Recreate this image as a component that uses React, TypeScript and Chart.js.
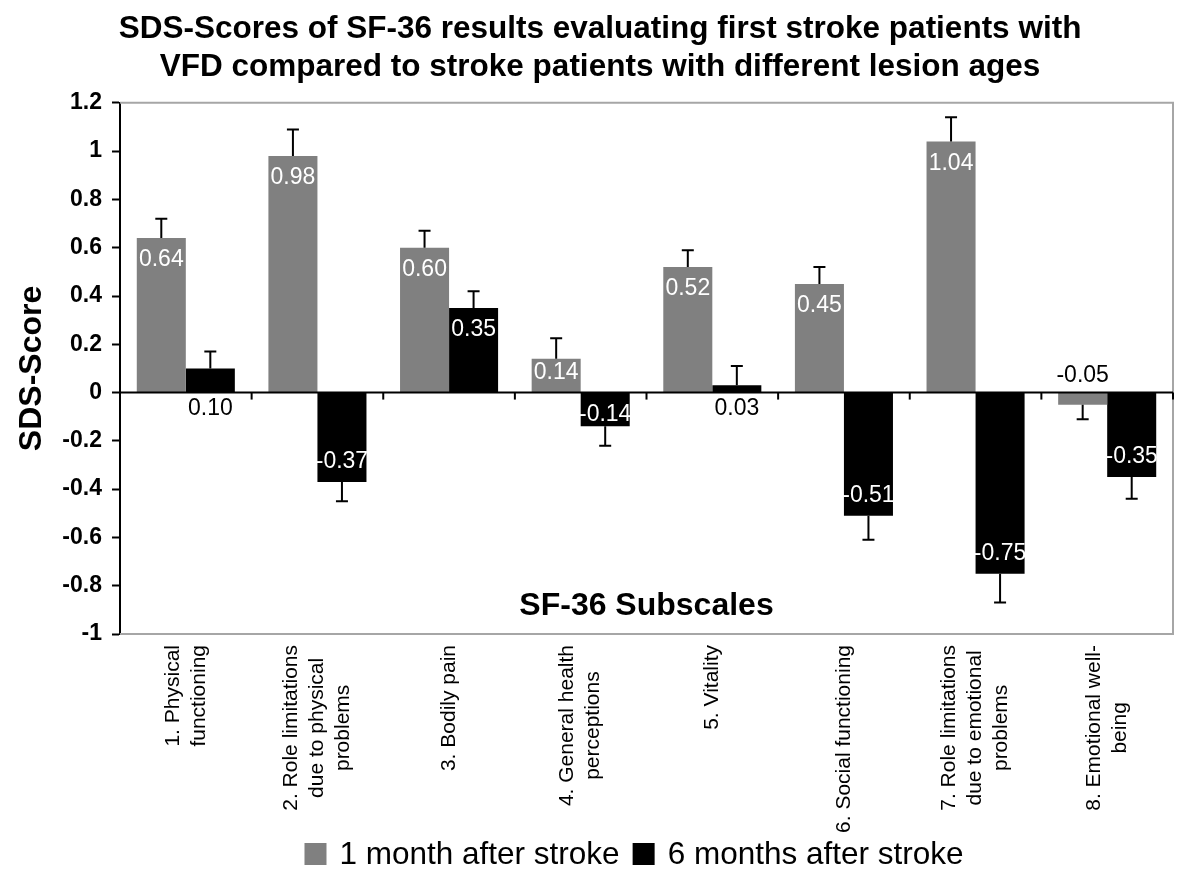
import React, { useEffect, useRef } from "react";
import { Chart, registerables } from "chart.js";
Chart.register(...registerables);

const FONT = "'Liberation Sans', Arial, Helvetica, sans-serif";

const titleLines = [
  "SDS-Scores of SF-36 results evaluating first stroke patients with",
  "VFD compared to stroke patients with different lesion ages",
];
const yAxisTitle = "SDS-Score";
const xAxisTitle = "SF-36 Subscales";

const categories: string[][] = [
  ["1. Physical", "functioning"],
  ["2. Role limitations", "due to physical", "problems"],
  ["3. Bodily pain"],
  ["4. General health", "perceptions"],
  ["5. Vitality"],
  ["6. Social functioning"],
  ["7. Role limitations", "due to emotional", "problems"],
  ["8. Emotional well-", "being"],
];

const seriesNames = ["1 month after stroke", "6 months after stroke"];
const seriesColors = ["#808080", "#000000"];

const oneMonth = [0.64, 0.98, 0.6, 0.14, 0.52, 0.45, 1.04, -0.05];
const sixMonths = [0.1, -0.37, 0.35, -0.14, 0.03, -0.51, -0.75, -0.35];
const oneMonthErr = [0.08, 0.11, 0.07, 0.085, 0.07, 0.07, 0.1, 0.06];
const sixMonthsErr = [0.07, 0.08, 0.07, 0.08, 0.08, 0.1, 0.12, 0.09];

const yMin = -1;
const yMax = 1.2;
const yStep = 0.2;

const decorPlugin = {
  id: "decor",
  beforeDatasetsDraw(chart: any) {
    const { ctx, chartArea: a } = chart;
    ctx.save();
    ctx.strokeStyle = "#a6a6a6";
    ctx.lineWidth = 2;
    ctx.beginPath();
    ctx.moveTo(a.left, a.top);
    ctx.lineTo(a.right, a.top);
    ctx.lineTo(a.right, a.bottom);
    ctx.lineTo(a.left, a.bottom);
    ctx.stroke();
    ctx.restore();
  },
  afterDatasetsDraw(chart: any) {
    const { ctx, chartArea: a } = chart;
    const yScale = chart.scales.y;
    const zeroY = yScale.getPixelForValue(0);
    ctx.save();
    ctx.strokeStyle = "#000";
    ctx.lineWidth = 2;
    ctx.beginPath();
    ctx.moveTo(a.left, zeroY);
    ctx.lineTo(a.right, zeroY);
    ctx.stroke();
    const n = chart.data.labels.length;
    for (let i = 1; i <= n; i++) {
      const xb = a.left + (i * (a.right - a.left)) / n;
      ctx.beginPath();
      ctx.moveTo(xb, zeroY);
      ctx.lineTo(xb, zeroY + 7);
      ctx.stroke();
    }
    chart.data.datasets.forEach((ds: any, di: number) => {
      const meta = chart.getDatasetMeta(di);
      meta.data.forEach((el: any, i: number) => {
        const v = ds.data[i];
        const e = ds.errors[i];
        const yEnd = yScale.getPixelForValue(v);
        const yErr = yScale.getPixelForValue(v >= 0 ? v + e : v - e);
        ctx.strokeStyle = "#000";
        ctx.lineWidth = 2;
        ctx.beginPath();
        ctx.moveTo(el.x, yEnd);
        ctx.lineTo(el.x, yErr);
        ctx.moveTo(el.x - 6, yErr);
        ctx.lineTo(el.x + 6, yErr);
        ctx.stroke();
      });
    });
    ctx.font = `23px ${FONT}`;
    ctx.textAlign = "center";
    ctx.textBaseline = "middle";
    chart.data.datasets.forEach((ds: any, di: number) => {
      const meta = chart.getDatasetMeta(di);
      meta.data.forEach((el: any, i: number) => {
        const v = ds.data[i];
        const yEnd = el.y;
        const base = el.base;
        const len = Math.abs(base - yEnd);
        let y: number;
        let color: string;
        if (len < 30) {
          y = v >= 0 ? base + 16 : base - 18;
          color = "#000";
        } else {
          const off = Math.min(21, len / 2 - 4);
          y = v >= 0 ? yEnd + off : yEnd - off;
          color = "#fff";
        }
        ctx.fillStyle = color;
        ctx.fillText(v.toFixed(2), el.x, y + 1);
      });
    });
    ctx.restore();
  },
  afterDraw(chart: any) {
    const { ctx, chartArea: a } = chart;
    const xScale = chart.scales.x;
    ctx.save();
    ctx.fillStyle = "#000";
    ctx.font = `bold 32px ${FONT}`;
    ctx.textAlign = "center";
    ctx.textBaseline = "middle";
    ctx.fillText(xAxisTitle, (a.left + a.right) / 2, a.bottom - 28);

    ctx.font = `21px ${FONT}`;
    const lineH = 26;
    const top = a.bottom + 11;
    (chart.data.labels as string[][]).forEach((lines, i) => {
      const x = xScale.getPixelForValue(i);
      const maxW = Math.max(...lines.map((l) => ctx.measureText(l).width));
      ctx.save();
      ctx.translate(x, top + maxW / 2);
      ctx.rotate(-Math.PI / 2);
      ctx.textAlign = "center";
      ctx.textBaseline = "middle";
      lines.forEach((l, j) => {
        ctx.fillText(l, 0, (j - (lines.length - 1) / 2) * lineH);
      });
      ctx.restore();
    });

    ctx.font = `31.5px ${FONT}`;
    ctx.textAlign = "left";
    ctx.textBaseline = "middle";
    const box = 22;
    const gap = 13;
    const items = chart.data.datasets.map((ds: any) => ({
      label: ds.label,
      color: ds.backgroundColor,
      w: ctx.measureText(ds.label).width,
    }));
    const total =
      items.reduce((s: number, it: any) => s + box + gap + it.w, 0) + gap * (items.length - 1);
    let lx = 634 - total / 2;
    const ly = 854;
    items.forEach((it: any) => {
      ctx.fillStyle = it.color;
      ctx.fillRect(lx, ly - box / 2, box, box);
      lx += box + gap;
      ctx.fillStyle = "#000";
      ctx.fillText(it.label, lx, ly + 1);
      lx += it.w + gap;
    });
    ctx.restore();
  },
};

export default function App() {
  const ref = useRef<HTMLCanvasElement | null>(null);
  useEffect(() => {
    if (!ref.current) return;
    const chart = new Chart(ref.current, {
      type: "bar",
      data: {
        labels: categories as any,
        datasets: [
          {
            label: seriesNames[0],
            data: oneMonth,
            backgroundColor: seriesColors[0],
            borderWidth: 0,
            categoryPercentage: 0.745,
            barPercentage: 1,
            errors: oneMonthErr,
          } as any,
          {
            label: seriesNames[1],
            data: sixMonths,
            backgroundColor: seriesColors[1],
            borderWidth: 0,
            categoryPercentage: 0.745,
            barPercentage: 1,
            errors: sixMonthsErr,
          } as any,
        ],
      },
      options: {
        animation: false,
        responsive: false,
        devicePixelRatio: 1,
        layout: { padding: 0 },
        plugins: {
          legend: { display: false },
          tooltip: { enabled: false },
          title: {
            display: true,
            text: titleLines,
            color: "#000",
            font: { family: FONT, size: 31.5, weight: "bold", lineHeight: 1.22 },
            padding: { top: 10, bottom: 16 },
          },
        },
        scales: {
          x: {
            type: "category",
            ticks: { display: false },
            grid: { display: false },
            border: { display: false },
            afterFit: (s: any) => {
              s.height = 245;
            },
          },
          y: {
            min: yMin,
            max: yMax,
            ticks: {
              stepSize: yStep,
              color: "#000",
              padding: 10,
              font: { family: FONT, size: 23, weight: "bold" },
              callback: (v: any) => String(Math.round(Number(v) * 10) / 10),
            },
            grid: {
              drawOnChartArea: false,
              drawTicks: true,
              tickLength: 8,
              tickColor: "#000",
              tickWidth: 2,
            },
            border: { display: true, color: "#000", width: 2 },
            title: {
              display: true,
              text: yAxisTitle,
              color: "#000",
              font: { family: FONT, size: 32, weight: "bold" },
              padding: { top: 13, bottom: 0 },
            },
            afterFit: (s: any) => {
              s.width = 120;
            },
          },
          spacer: {
            type: "linear",
            position: "right",
            display: true,
            ticks: { display: false },
            grid: { display: false },
            border: { display: false },
            afterFit: (s: any) => {
              s.width = 27;
            },
          },
        },
      } as any,
      plugins: [decorPlugin],
    });
    return () => chart.destroy();
  }, []);
  return (
    <div style={{ position: "absolute", left: 0, top: 0, width: 1200, height: 879, background: "#fff" }}>
      <canvas ref={ref} width={1200} height={879} style={{ display: "block" }} />
    </div>
  );
}
